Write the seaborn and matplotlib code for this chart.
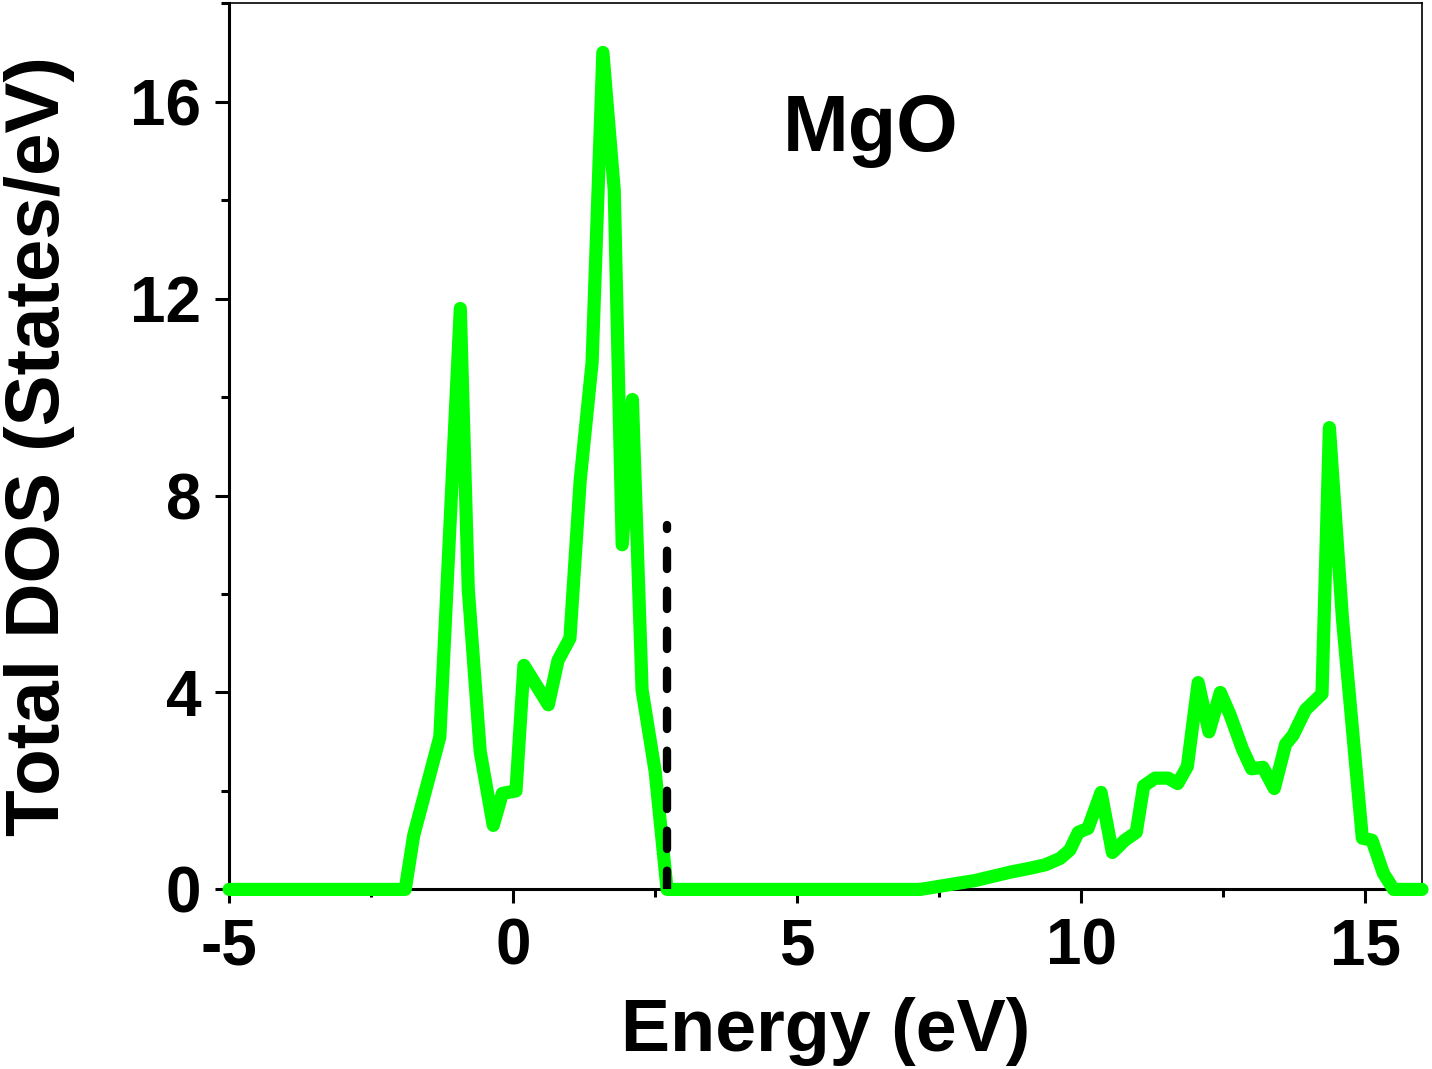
import numpy as np
import pandas as pd
import matplotlib.pyplot as plt
from matplotlib.ticker import MultipleLocator
import seaborn as sns

# Total DOS of MgO
energy = [-5.0, -1.90, -1.75, -1.29, -0.93, -0.79, -0.58, -0.35, -0.19, 0.05,
          0.19, 0.62, 0.79, 1.00, 1.18, 1.39, 1.58, 1.78, 1.92,
          2.10, 2.27, 2.50, 2.71, 7.17, 7.70, 8.13, 8.75, 9.10, 9.37,
          9.63, 9.80, 9.95, 10.12, 10.35, 10.55, 10.77, 10.97, 11.10, 11.30,
          11.53, 11.70, 11.87, 12.06, 12.25, 12.45, 12.62, 12.84, 13.00, 13.20,
          13.40, 13.60, 13.73, 13.95, 14.24, 14.37, 14.60, 14.95, 15.12, 15.32,
          15.50, 16.0]
dos = [0.0, 0.0, 1.1, 3.1, 11.8, 6.1, 2.8, 1.3, 1.95, 2.0,
       4.55, 3.75, 4.65, 5.1, 8.3, 10.7, 17.0, 14.2, 7.0,
       9.95, 4.05, 2.4, 0.0, 0.0, 0.1, 0.18, 0.35, 0.43, 0.5,
       0.63, 0.8, 1.16, 1.24, 1.97, 0.75, 1.0, 1.16, 2.1, 2.26,
       2.26, 2.15, 2.5, 4.2, 3.2, 4.0, 3.55, 2.85, 2.45, 2.48,
       2.05, 2.95, 3.13, 3.65, 3.97, 9.38, 5.5, 1.04, 1.0, 0.33,
       0.0, 0.0]

# Fermi level marker
fermi_x = [2.71, 2.71]
fermi_y = [0.0, 7.4]

df = pd.DataFrame({"Energy": energy, "DOS": dos})

sns.set_style("ticks")
plt.rcParams["font.family"] = ["Liberation Sans", "DejaVu Sans"]
plt.rcParams["font.weight"] = "bold"
plt.rcParams["text.color"] = "black"
plt.rcParams["axes.labelcolor"] = "black"
plt.rcParams["xtick.color"] = "black"
plt.rcParams["ytick.color"] = "black"
plt.rcParams["axes.edgecolor"] = "black"

fig = plt.figure(figsize=(14.32, 10.69), dpi=100)
ax = fig.add_axes([0.160, 0.168, 0.833, 0.829])

sns.lineplot(data=df, x="Energy", y="DOS", ax=ax, color="#00ff00",
             linewidth=9.5, sort=False, clip_on=False, zorder=3)
ax.plot(fermi_x, fermi_y, color="black", linewidth=6,
        linestyle=(0, (2.2, 2.6)), dash_capstyle="round", zorder=4)

ax.set_xlim(-5, 16)
ax.set_ylim(0, 18)
ax.xaxis.set_major_locator(MultipleLocator(5))
ax.xaxis.set_minor_locator(MultipleLocator(2.5))
ax.yaxis.set_major_locator(MultipleLocator(4))
ax.yaxis.set_minor_locator(MultipleLocator(2))
ax.set_xticks([-5, 0, 5, 10, 15])
ax.set_xticklabels(["-5", "0", "5", "10", "15"])

ax.tick_params(axis="both", which="major", direction="out", length=10, width=2.2,
               labelsize=46, pad=10)
ax.tick_params(axis="both", which="minor", direction="out", length=6, width=2.2)
for lbl in ax.get_xticklabels() + ax.get_yticklabels():
    lbl.set_fontweight("bold")

for side in ["left", "bottom"]:
    ax.spines[side].set_linewidth(2.2)
for side in ["top", "right"]:
    ax.spines[side].set_linewidth(1.2)
    ax.spines[side].set_visible(True)

ax.set_xlabel("Energy (eV)", fontsize=53, fontweight="bold", labelpad=14)
ax.set_ylabel("Total DOS (States/eV)", fontsize=55, fontweight="bold", labelpad=40)
ax.text(4.75, 15.0, "MgO", fontsize=57, fontweight="bold")

fig.savefig("out.png", dpi=100)
